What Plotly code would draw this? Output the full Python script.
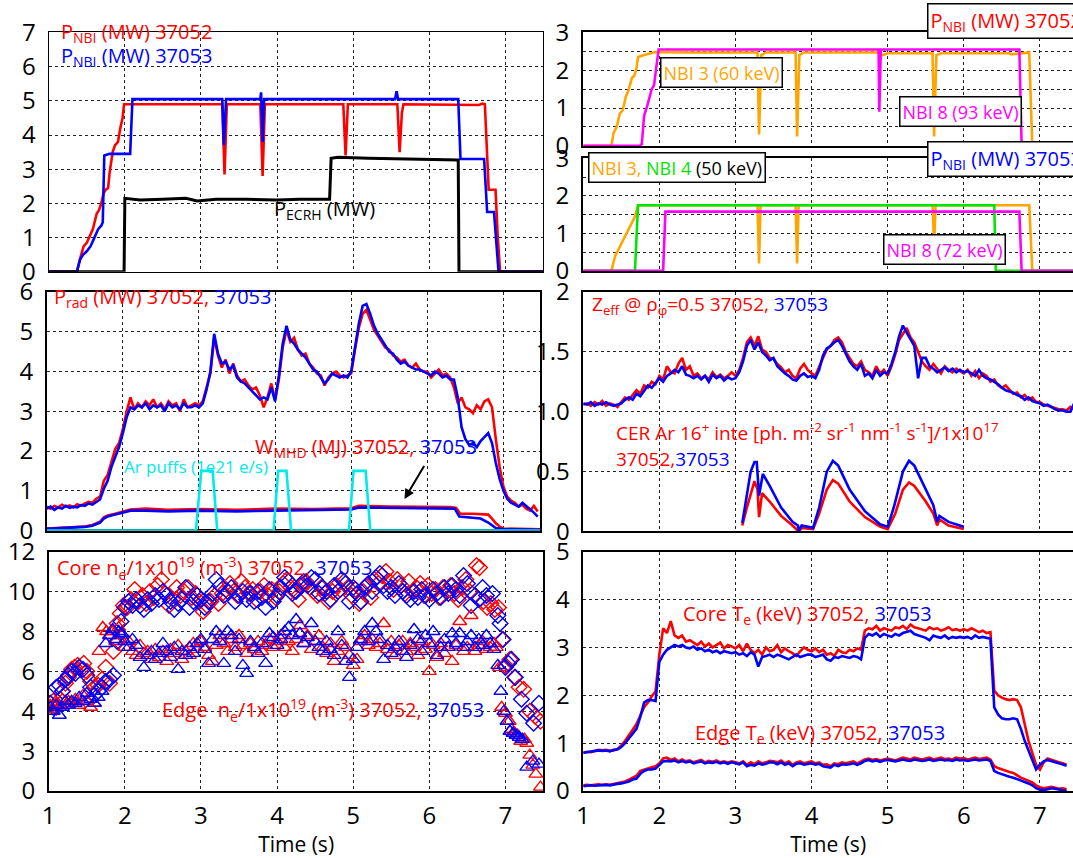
import numpy as np
import plotly.graph_objects as go

W, H = 1073, 858
RED = "#ff0000"; BLUE = "#0000ff"; CYAN = "#00eaea"; ORANGE = "#ffa500"
MAGENTA = "#ff00ff"; GREEN = "#00e600"; BLACK = "#000000"
FONT = "Open Sans"

# ---------------- axis tick labels ----------------
x_ticks = [1, 2, 3, 4, 5, 6, 7]
x_ticktext = ["1", "2", "3", "4", "5", "6", "7"]
ne_tickvals = [0, 2, 4, 6, 8, 10, 12]
ne_ticktext = ["0", "3", "4", "6", "8", "10", "12"]
zeff_tickvals = [0, 0.5, 1.0, 1.5, 2]
zeff_ticktext = ["0", "0.5", "1.0", "1.5", "2"]

# ---------------- panel 1: P_NBI and P_ECRH ----------------
pnbi_37052 = [(1.00,0),(1.37,0),(1.42,0.45),(1.46,0.75),(1.50,0.85),(1.53,1.0),(1.58,1.25),(1.63,1.7),
              (1.66,1.8),(1.69,2.0),(1.72,2.3),(1.75,2.4),(1.78,2.45),(1.80,2.9),(1.84,3.5),(1.87,3.7),
              (1.91,3.8),(1.94,4.2),(1.97,4.5),(1.99,4.9),(2.2,4.9),(2.6,4.92),(3.0,4.9),(3.28,4.9),
              (3.31,2.85),(3.34,4.9),(3.5,4.9),(3.78,4.9),(3.81,2.8),(3.84,4.9),(4.2,4.9),(4.6,4.9),
              (4.87,4.9),(4.90,3.4),(4.93,4.9),(5.3,4.9),(5.58,4.9),(5.61,3.5),(5.64,4.65),(5.66,4.9),
              (6.0,4.9),(6.5,4.9),(6.65,4.88),(6.70,4.92),(6.73,4.9),(6.78,2.4),(6.87,2.4),(6.90,1.0),
              (6.93,0),(7.5,0)]
pnbi_37053 = [(1.0,0),(1.37,0),(1.41,0.35),(1.45,0.5),(1.5,0.6),(1.55,0.75),(1.6,1.0),(1.65,1.25),
              (1.69,1.35),(1.71,1.45),(1.73,3.4),(1.8,3.45),(2.0,3.45),(2.07,3.45),(2.1,5.05),(3.28,5.05),
              (3.30,3.7),(3.33,5.05),(3.78,5.05),(3.79,5.25),(3.81,3.8),(3.83,5.05),(5.55,5.05),(5.57,5.28),
              (5.59,5.05),(6.38,5.05),(6.41,3.3),(6.72,3.3),(6.76,1.75),(6.85,1.75),(6.91,0),(7.5,0)]
pecrh = [(1.0,0),(1.99,0),(2.0,2.15),(2.2,2.1),(2.5,2.12),(2.8,2.15),(2.95,2.07),(3.2,2.12),(3.6,2.12),
         (4.0,2.1),(4.3,2.12),(4.69,2.12),(4.71,3.32),(4.8,3.35),(5.2,3.32),(5.6,3.3),(6.0,3.3),
         (6.38,3.27),(6.39,0),(7.5,0)]

# ---------------- panels 2-3: individual beams ----------------
nbi3_60kev_37052 = [(1.0,0),(1.37,0),(1.40,0.35),(1.44,0.5),(1.48,0.85),(1.52,0.95),(1.56,1.3),(1.60,1.5),
                    (1.64,1.8),(1.67,1.85),(1.70,2.05),(1.72,2.35),(1.8,2.4),(1.95,2.48),(2.5,2.47),
                    (3.29,2.47),(3.31,0.3),(3.34,2.4),(3.4,2.47),(3.79,2.47),(3.81,0.25),(3.84,2.4),
                    (3.9,2.47),(4.9,2.47),(4.93,2.4),(5.0,2.45),(5.59,2.45),(5.61,0.25),(5.64,2.4),
                    (5.7,2.45),(6.6,2.45),(6.62,2.42),(6.86,2.47),(6.9,0),(7.5,0)]
nbi8_93kev_37052 = [(1.0,0),(1.74,0),(1.77,0.05),(1.80,0.8),(1.84,1.05),(1.87,1.3),(1.90,1.5),(1.93,1.6),
                    (1.97,2.3),(1.99,2.55),(4.88,2.55),(4.89,0.9),(4.91,2.55),(6.73,2.55),(6.76,0),(7.5,0)]
nbi3_50kev_37053 = [(1.0,0),(1.37,0),(1.42,0.4),(1.47,0.6),(1.5,0.7),(1.55,0.9),(1.6,1.1),(1.65,1.3),
                    (1.68,1.45),(1.72,1.75),(2.0,1.75),(3.29,1.75),(3.31,0.2),(3.33,1.75),(3.79,1.75),
                    (3.81,0.2),(3.83,1.75),(5.59,1.75),(5.61,0.7),(5.63,1.75),(6.86,1.75),(6.9,0),(7.5,0)]
nbi4_50kev_37053 = [(1.0,0),(1.68,0),(1.72,1.75),(6.40,1.75),(6.42,0),(7.5,0)]
nbi8_72kev_37053 = [(1.0,0),(2.05,0),(2.08,1.58),(6.73,1.58),(6.76,0),(7.5,0)]

# ---------------- panel 4: P_rad, W_MHD, Ar puffs (P_rad sampled every 0.05 s from 1.0 s) ----------------
prad_37052 = [0.60,0.55,0.62,0.58,0.65,0.60,0.63,0.58,0.66,0.62,
              0.68,0.72,0.70,0.80,0.85,1.25,1.40,1.75,2.05,2.20,
              2.55,3.00,3.35,3.05,3.20,3.10,3.25,3.15,3.30,3.10,
              3.20,3.05,3.25,3.15,3.20,3.00,3.30,3.10,3.15,3.20,
              3.15,3.25,3.60,3.95,4.85,4.40,4.10,4.30,3.95,4.20,
              3.90,3.75,3.80,3.65,3.55,3.60,3.40,3.10,3.35,3.70,
              3.30,3.80,4.60,5.05,4.75,4.85,4.55,4.40,4.45,4.20,
              4.10,3.95,3.90,3.65,3.85,3.95,4.00,3.90,3.85,3.90,
              3.95,4.55,5.10,5.45,5.55,5.30,5.05,4.90,4.75,4.60,
              4.55,4.40,4.35,4.25,4.30,4.15,4.10,4.20,4.05,4.00,
              4.00,3.85,3.95,4.05,3.90,3.95,3.85,3.60,3.20,3.35,
              3.10,3.05,2.95,3.15,3.05,3.25,3.30,3.10,2.30,1.60,
              1.10,0.85,0.75,0.70,0.60,0.65,0.55,0.50,0.62,0.48]
prad_37053 = [0.55,0.60,0.52,0.58,0.55,0.62,0.57,0.60,0.58,0.64,
              0.62,0.68,0.65,0.72,0.78,1.05,1.25,1.60,1.85,2.10,
              2.45,2.85,3.10,3.05,3.15,3.10,3.20,3.05,3.15,3.10,
              3.15,3.00,3.20,3.10,3.15,3.05,3.20,3.10,3.10,3.15,
              3.10,3.20,3.55,4.00,4.95,4.45,4.20,4.25,4.05,4.15,
              3.85,3.75,3.70,3.60,3.50,3.40,3.30,3.35,3.30,3.60,
              3.25,3.90,4.70,5.15,4.80,4.70,4.55,4.45,4.35,4.20,
              4.05,4.00,3.85,3.70,3.80,3.95,3.90,3.85,3.90,3.85,
              4.00,4.65,5.20,5.65,5.70,5.45,5.15,4.95,4.80,4.65,
              4.50,4.45,4.30,4.20,4.25,4.15,4.10,4.05,4.05,4.00,
              3.95,3.90,4.00,3.95,3.85,3.90,3.80,3.80,3.35,2.60,
              2.30,2.15,2.20,2.10,2.25,2.35,2.45,2.20,1.70,1.30,
              1.00,0.80,0.70,0.65,0.60,0.70,0.62,0.55,0.45,0.35]
wmhd_37052 = [(1.0,0.05),(1.3,0.07),(1.5,0.10),(1.6,0.14),(1.7,0.22),(1.75,0.33),(1.8,0.38),(1.9,0.42),
              (2.0,0.47),(2.1,0.53),(2.3,0.55),(2.6,0.52),(3.0,0.54),(3.5,0.52),(4.0,0.55),(4.5,0.54),
              (5.0,0.56),(5.1,0.62),(5.5,0.60),(6.0,0.60),(6.3,0.59),(6.38,0.57),(6.43,0.42),(6.6,0.42),
              (6.8,0.40),(6.85,0.30),(6.9,0.18),(6.95,0.10),(7.0,0.05),(7.2,0.04),(7.5,0.03)]
wmhd_37053 = [(1.0,0.04),(1.3,0.06),(1.5,0.09),(1.6,0.12),(1.7,0.2),(1.75,0.3),(1.8,0.35),(1.9,0.40),
              (2.0,0.45),(2.1,0.5),(2.3,0.5),(2.6,0.48),(3.0,0.5),(3.5,0.48),(4.0,0.5),(4.5,0.52),
              (5.0,0.53),(5.1,0.58),(5.5,0.57),(6.0,0.56),(6.3,0.56),(6.36,0.55),(6.42,0.35),(6.6,0.33),
              (6.7,0.30),(6.8,0.2),(6.85,0.12),(6.9,0.06),(7.0,0.03),(7.5,0.02)]
ar_puffs = [(1.0,0),(2.96,0),(3.03,1.5),(3.18,1.5),(3.24,0),(3.98,0),(4.04,1.5),(4.15,1.5),(4.21,0),
            (4.97,0),(5.03,1.5),(5.19,1.5),(5.25,0),(7.5,0)]
base_line = [(1.0,0),(7.5,0)]

# ---------------- panel 5: Zeff (every 0.05 s from 1.0 s) and CER Ar16+ ----------------
zeff_37052 = [1.06,1.07,1.05,1.08,1.06,1.09,1.05,1.07,1.06,1.04,
              1.08,1.12,1.10,1.14,1.18,1.15,1.22,1.20,1.25,1.23,
              1.30,1.27,1.38,1.33,1.32,1.40,1.45,1.35,1.38,1.30,
              1.32,1.28,1.30,1.27,1.33,1.29,1.31,1.28,1.30,1.33,
              1.30,1.35,1.45,1.58,1.62,1.55,1.63,1.52,1.50,1.45,
              1.44,1.40,1.37,1.33,1.35,1.30,1.28,1.36,1.40,1.35,
              1.32,1.30,1.38,1.45,1.52,1.55,1.60,1.62,1.58,1.50,
              1.45,1.40,1.38,1.42,1.35,1.33,1.30,1.38,1.32,1.35,
              1.30,1.38,1.48,1.60,1.65,1.70,1.62,1.58,1.50,1.42,
              1.38,1.35,1.40,1.36,1.32,1.38,1.35,1.33,1.36,1.34,
              1.32,1.35,1.30,1.34,1.28,1.32,1.30,1.25,1.27,1.22,
              1.20,1.22,1.18,1.15,1.16,1.12,1.14,1.10,1.12,1.08,
              1.08,1.06,1.05,1.04,1.03,1.02,1.02,1.01,1.04,1.02]
zeff_37053 = [1.07,1.06,1.08,1.05,1.07,1.06,1.08,1.06,1.05,1.06,
              1.07,1.10,1.12,1.10,1.15,1.13,1.18,1.22,1.20,1.24,
              1.28,1.25,1.30,1.32,1.35,1.33,1.38,1.31,1.30,1.28,
              1.30,1.27,1.30,1.25,1.31,1.28,1.30,1.26,1.29,1.27,
              1.28,1.33,1.42,1.55,1.60,1.52,1.58,1.50,1.47,1.43,
              1.45,1.38,1.35,1.32,1.30,1.27,1.26,1.30,1.32,1.29,
              1.30,1.28,1.35,1.47,1.53,1.55,1.58,1.60,1.55,1.48,
              1.42,1.38,1.35,1.40,1.30,1.32,1.28,1.35,1.30,1.33,
              1.32,1.40,1.50,1.63,1.72,1.66,1.60,1.55,1.28,1.45,
              1.45,1.38,1.36,1.33,1.35,1.37,1.34,1.36,1.33,1.35,
              1.33,1.34,1.32,1.30,1.35,1.30,1.28,1.27,1.25,1.23,
              1.20,1.18,1.17,1.16,1.14,1.13,1.10,1.12,1.09,1.08,
              1.07,1.05,1.06,1.04,1.02,1.01,1.01,1.00,1.00,1.07]
cer_37052 = [(3.09,0.05),(3.15,0.2),(3.25,0.42),(3.29,0.35),(3.31,0.12),(3.35,0.32),(3.45,0.25),(3.6,0.13),
             (3.75,0.05),(3.83,0.0),(3.87,0.03),(4.02,0.02),(4.1,0.15),(4.2,0.35),(4.28,0.43),(4.35,0.4),
             (4.5,0.25),(4.7,0.12),(4.9,0.04),(5.0,0.02),(5.1,0.15),(5.2,0.35),(5.28,0.41),(5.35,0.38),
             (5.5,0.25),(5.6,0.15),(5.65,0.05),(5.68,0.1),(5.8,0.05),(6.0,0.02)]
cer_37053 = [(3.09,0.07),(3.15,0.3),(3.2,0.5),(3.25,0.58),(3.28,0.58),(3.31,0.3),(3.36,0.48),(3.45,0.38),
             (3.6,0.2),(3.75,0.08),(3.82,0.05),(3.83,0.0),(3.87,0.05),(4.02,0.03),(4.1,0.2),(4.2,0.5),
             (4.28,0.59),(4.35,0.55),(4.5,0.35),(4.7,0.17),(4.9,0.06),(5.0,0.04),(5.08,0.2),(5.2,0.5),
             (5.28,0.59),(5.35,0.55),(5.5,0.35),(5.6,0.22),(5.65,0.08),(5.68,0.13),(5.8,0.08),(6.0,0.04)]

# ---------------- panel 6: densities (axis position units) ----------------
core_ne_37052 = [(1.02,4.4),(1.06,4.5),(1.10,4.2),(1.15,4.6),(1.18,5.0),(1.22,5.4),(1.26,5.7),(1.30,6.1),
    (1.34,6.2),(1.38,6.3),(1.42,6.1),(1.46,6.4),(1.50,6.0),(1.55,5.5),(1.60,5.2),(1.65,5.3),(1.70,5.6),
    (1.75,6.2),(1.80,5.4),(1.85,7.0),(1.90,8.4),(1.94,8.9),(1.98,9.3),(2.03,9.2),(2.08,9.6),(2.13,10.1),
    (2.18,9.5),(2.23,9.8),(2.28,9.4),(2.33,10.0),(2.38,9.7),(2.43,10.3),(2.48,10.6),(2.53,9.9),(2.58,9.3),
    (2.63,9.6),(2.68,10.2),(2.73,9.8),(2.78,10.0),(2.83,10.2),(2.88,9.7),(2.93,9.9),(2.98,9.5),(3.03,9.0),
    (3.08,9.3),(3.13,9.5),(3.18,9.8),(3.23,9.4),(3.28,9.9),(3.33,10.1),(3.38,10.4),(3.43,10.0),(3.48,9.8),
    (3.53,10.5),(3.58,10.2),(3.63,9.9),(3.68,10.1),(3.73,9.6),(3.78,10.0),(3.83,10.3),(3.88,9.8),(3.93,10.1),
    (3.98,9.7),(4.03,10.0),(4.08,10.4),(4.13,10.6),(4.18,10.2),(4.23,10.0),(4.28,9.6),(4.33,10.3),(4.38,10.5),
    (4.43,10.2),(4.48,10.0),(4.53,9.8),(4.58,10.2),(4.63,9.9),(4.68,9.5),(4.73,10.0),(4.78,10.3),(4.83,10.1),
    (4.88,10.5),(4.93,10.2),(4.98,9.8),(5.03,10.1),(5.08,9.4),(5.13,10.0),(5.18,10.3),(5.23,9.7),(5.28,10.6),
    (5.33,10.4),(5.38,10.8),(5.43,11.0),(5.48,10.5),(5.53,10.1),(5.58,10.6),(5.63,10.3),(5.68,9.9),(5.73,10.5),
    (5.78,10.0),(5.83,10.2),(5.88,10.4),(5.93,9.8),(5.98,10.3),(6.03,9.9),(6.08,10.1),(6.13,9.7),(6.18,10.2),
    (6.23,10.0),(6.28,10.3),(6.33,9.9),(6.38,9.6),(6.43,10.2),(6.48,10.6),(6.53,10.0),(6.62,11.3),(6.66,11.2),
    (6.71,9.5),(6.76,9.2),(6.81,9.4),(6.86,9.1),(6.91,9.2),(6.96,7.6),(7.00,6.3),(7.06,6.6),(7.12,5.7),
    (7.18,5.2),(7.24,5.1),(7.32,4.0),(7.39,3.75),(7.46,3.5)]
core_ne_37053 = [(1.02,4.4),(1.06,4.2),(1.10,5.2),(1.14,5.3),(1.18,5.0),(1.22,5.6),(1.26,5.8),(1.30,6.0),
    (1.35,5.9),(1.40,6.2),(1.45,6.1),(1.50,5.8),(1.55,5.2),(1.60,4.8),(1.65,5.0),(1.70,5.2),(1.75,5.5),
    (1.80,5.6),(1.85,5.8),(1.90,7.5),(1.95,8.5),(2.00,9.2),(2.05,9.5),(2.10,9.3),(2.15,9.6),(2.20,9.3),
    (2.25,9.1),(2.30,9.6),(2.35,9.4),(2.40,9.8),(2.45,9.6),(2.50,10.0),(2.55,9.8),(2.60,9.5),(2.65,9.1),
    (2.70,9.4),(2.75,9.6),(2.80,10.2),(2.85,9.2),(2.90,9.5),(2.95,9.8),(3.00,9.6),(3.05,9.2),(3.10,9.5),
    (3.15,9.9),(3.20,10.6),(3.25,10.3),(3.30,9.8),(3.35,10.0),(3.40,10.2),(3.45,9.5),(3.50,9.8),(3.55,10.0),
    (3.60,9.6),(3.65,9.9),(3.70,9.5),(3.75,10.0),(3.80,9.7),(3.85,9.2),(3.90,10.1),(3.95,9.5),(4.00,9.8),
    (4.05,10.2),(4.10,10.7),(4.15,10.5),(4.20,9.9),(4.25,10.0),(4.30,10.3),(4.35,10.5),(4.40,10.3),(4.45,10.7),
    (4.50,10.6),(4.55,9.9),(4.60,10.2),(4.65,10.0),(4.70,9.6),(4.75,10.3),(4.80,10.0),(4.85,10.6),(4.90,10.4),
    (4.95,9.5),(5.00,10.2),(5.05,9.9),(5.10,9.5),(5.15,10.2),(5.20,10.4),(5.25,10.0),(5.30,10.7),(5.35,10.9),
    (5.40,10.3),(5.45,10.0),(5.50,10.2),(5.55,9.8),(5.60,10.4),(5.65,10.0),(5.70,9.8),(5.75,9.6),(5.80,10.0),
    (5.85,9.7),(5.90,10.1),(5.95,9.8),(6.00,9.6),(6.05,10.1),(6.10,9.9),(6.15,9.7),(6.20,10.2),(6.25,9.9),
    (6.30,10.3),(6.35,10.1),(6.40,9.8),(6.45,10.8),(6.50,10.4),(6.55,9.3),(6.60,9.8),(6.65,9.6),(6.70,10.2),
    (6.75,9.8),(6.83,9.9),(6.90,8.8),(6.93,8.4),(6.97,7.6),(7.00,6.2),(7.04,6.4),(7.08,6.6),(7.13,5.7),
    (7.21,4.6),(7.28,3.9),(7.37,3.4),(7.44,4.4)]
edge_ne_37052 = [(1.02,4.3),(1.06,4.1),(1.10,4.4),(1.14,4.2),(1.18,4.6),(1.22,4.3),(1.26,4.5),(1.30,4.4),
    (1.35,4.6),(1.40,4.3),(1.45,4.8),(1.50,4.5),(1.55,4.2),(1.60,4.4),(1.66,7.0),(1.71,8.2),(1.76,8.0),
    (1.80,7.8),(1.84,8.0),(1.88,7.5),(1.92,8.2),(1.96,7.8),(2.00,7.2),(2.05,7.5),(2.10,7.0),(2.15,6.8),
    (2.20,7.3),(2.25,6.9),(2.30,7.0),(2.35,6.6),(2.40,7.1),(2.45,6.7),(2.50,7.0),(2.55,6.5),(2.60,7.1),
    (2.65,6.9),(2.70,7.3),(2.75,6.6),(2.80,7.0),(2.85,6.8),(2.90,7.4),(2.95,7.1),(3.00,7.5),(3.05,7.2),
    (3.10,6.8),(3.15,6.5),(3.20,7.3),(3.25,7.8),(3.30,7.4),(3.35,7.0),(3.40,7.6),(3.45,7.2),(3.50,7.8),
    (3.55,7.3),(3.60,6.9),(3.65,7.4),(3.70,7.1),(3.75,7.5),(3.80,7.0),(3.85,7.3),(3.90,7.6),(3.95,7.2),
    (4.00,7.5),(4.05,7.8),(4.10,7.2),(4.15,7.5),(4.20,7.0),(4.25,7.6),(4.30,8.3),(4.35,7.4),(4.40,7.8),
    (4.45,7.1),(4.50,7.5),(4.55,7.8),(4.60,7.2),(4.65,6.9),(4.70,7.4),(4.75,6.5),(4.80,7.0),(4.85,7.5),
    (4.90,7.2),(4.95,6.8),(5.00,6.3),(5.05,6.6),(5.10,7.5),(5.15,7.8),(5.20,7.3),(5.25,7.6),(5.30,7.2),
    (5.35,7.4),(5.40,8.4),(5.45,7.1),(5.50,7.5),(5.55,6.8),(5.60,7.3),(5.65,7.5),(5.70,7.0),(5.75,7.4),
    (5.80,7.2),(5.85,6.8),(5.90,7.5),(5.95,7.1),(6.00,6.0),(6.05,7.3),(6.10,6.7),(6.15,7.4),(6.20,6.9),
    (6.25,7.2),(6.30,6.5),(6.35,7.3),(6.40,8.5),(6.45,7.0),(6.50,7.2),(6.55,8.8),(6.60,7.0),(6.65,7.3),
    (6.70,7.5),(6.75,7.1),(6.80,7.2),(6.85,7.4),(6.88,7.2),(6.92,6.2),(6.95,4.2),(7.00,3.9),(7.05,3.5),
    (7.08,3.1),(7.12,2.9),(7.16,2.8),(7.20,2.5),(7.25,2.6),(7.28,2.4),(7.32,1.8),(7.36,1.3),(7.40,0.85),
    (7.46,0.2)]
edge_ne_37053 = [(1.02,4.2),(1.06,4.0),(1.10,4.3),(1.14,3.8),(1.18,4.2),(1.22,4.5),(1.26,4.3),(1.30,4.5),
    (1.35,4.4),(1.40,4.7),(1.45,4.5),(1.50,4.9),(1.55,4.6),(1.60,4.4),(1.65,4.7),(1.70,5.0),(1.75,7.4),
    (1.80,7.8),(1.84,8.1),(1.88,7.6),(1.92,8.0),(1.96,7.9),(2.00,7.5),(2.05,7.2),(2.10,7.6),(2.15,7.3),
    (2.20,6.7),(2.25,6.2),(2.30,6.8),(2.35,7.0),(2.40,6.6),(2.45,6.9),(2.50,7.4),(2.55,7.0),(2.60,6.7),
    (2.65,7.2),(2.70,6.1),(2.75,7.0),(2.80,6.8),(2.85,7.2),(2.90,6.9),(2.95,7.4),(3.00,7.6),(3.05,7.1),
    (3.10,6.4),(3.15,7.6),(3.20,8.0),(3.25,7.5),(3.30,6.4),(3.35,8.0),(3.40,7.8),(3.45,7.0),(3.50,7.6),
    (3.55,6.3),(3.60,5.9),(3.65,7.5),(3.70,7.2),(3.75,6.9),(3.80,7.4),(3.85,6.4),(3.90,7.9),(3.95,7.7),
    (4.00,7.3),(4.05,7.6),(4.10,8.0),(4.15,8.2),(4.20,7.8),(4.25,8.6),(4.30,7.9),(4.35,7.4),(4.40,7.7),
    (4.45,8.4),(4.50,7.5),(4.55,7.2),(4.60,7.0),(4.65,7.5),(4.70,7.1),(4.75,6.8),(4.80,8.0),(4.85,7.3),
    (4.90,6.5),(4.95,5.7),(5.00,6.6),(5.05,7.2),(5.10,7.6),(5.15,8.0),(5.20,7.5),(5.25,8.4),(5.30,8.0),
    (5.35,7.6),(5.40,6.6),(5.45,7.3),(5.50,6.9),(5.55,7.2),(5.60,7.5),(5.65,7.0),(5.70,6.7),(5.75,7.3),
    (5.80,8.1),(5.85,7.6),(5.90,7.0),(5.95,7.8),(6.00,7.4),(6.05,8.0),(6.10,6.8),(6.15,7.2),(6.20,7.6),
    (6.25,7.2),(6.30,7.9),(6.35,7.4),(6.40,7.9),(6.45,7.2),(6.50,7.5),(6.55,7.8),(6.60,7.2),(6.65,7.6),
    (6.70,7.3),(6.75,7.8),(6.80,7.4),(6.85,7.1),(6.90,6.3),(6.94,5.0),(6.98,4.0),(7.02,3.5),(7.06,3.0),
    (7.10,2.9),(7.14,2.8),(7.18,2.7),(7.22,2.6),(7.28,1.2),(7.36,1.5),(7.44,1.35)]

# ---------------- panel 7: Te (every 0.05 s from 1.0 s) ----------------
core_te_37052 = [0.80,0.82,0.81,0.84,0.86,0.85,0.86,0.84,0.85,0.88,
                 0.95,1.05,1.18,1.28,1.40,1.58,1.75,1.85,1.98,2.08,
                 2.85,3.40,3.30,3.55,3.25,3.20,3.25,3.12,3.15,3.10,
                 3.05,3.12,3.02,3.08,3.00,3.05,3.10,2.98,3.05,3.02,
                 2.98,3.05,2.92,3.08,2.95,2.88,2.95,2.85,3.00,2.92,
                 2.95,3.05,2.90,2.98,2.92,2.88,2.82,2.92,3.00,2.95,
                 2.92,2.98,2.90,2.95,2.85,2.88,2.82,2.95,2.90,2.88,
                 2.95,2.92,2.98,2.95,3.35,3.40,3.38,3.45,3.35,3.40,
                 3.38,3.35,3.42,3.40,3.45,3.38,3.48,3.42,3.40,3.38,
                 3.35,3.42,3.38,3.40,3.35,3.38,3.42,3.36,3.38,3.35,
                 3.38,3.35,3.40,3.36,3.32,3.35,3.30,3.32,2.10,2.00,
                 1.95,1.92,1.90,1.92,1.90,1.75,1.40,1.05,0.80,0.55,
                 0.45,0.60,0.68,0.65,0.62,0.60,0.58,0.55]
core_te_37053 = [0.80,0.81,0.83,0.84,0.85,0.84,0.85,0.83,0.86,0.87,
                 0.92,1.00,1.10,1.20,1.30,1.55,1.85,1.90,1.90,1.88,
                 2.70,2.85,2.95,3.00,3.05,3.02,3.05,3.00,2.98,3.02,
                 2.95,2.98,2.92,2.95,2.90,2.93,2.88,2.92,2.90,2.88,
                 2.90,2.85,2.88,2.82,2.90,2.85,2.60,2.80,2.82,2.85,
                 2.80,2.85,2.82,2.78,2.75,2.80,2.85,2.80,2.82,2.85,
                 2.85,2.80,2.82,2.85,2.75,2.72,2.80,2.78,2.82,2.80,
                 2.78,2.82,2.80,2.75,3.20,3.28,3.25,3.30,3.22,3.28,
                 3.25,3.22,3.28,3.25,3.30,3.32,3.35,3.28,3.25,3.22,
                 3.20,3.15,3.25,3.22,3.20,3.25,3.18,3.22,3.20,3.22,
                 3.20,3.22,3.18,3.25,3.20,3.22,3.20,3.18,1.75,1.60,
                 1.52,1.50,1.50,1.52,1.50,1.30,1.05,0.85,0.65,0.45,
                 0.55,0.62,0.65,0.62,0.60,0.58,0.55,0.53]
edge_te_37052 = [0.12,0.13,0.12,0.13,0.14,0.13,0.14,0.13,0.15,0.16,
                 0.18,0.20,0.24,0.28,0.32,0.42,0.45,0.48,0.50,0.52,
                 0.58,0.68,0.70,0.65,0.68,0.62,0.66,0.62,0.64,0.60,
                 0.62,0.65,0.60,0.63,0.61,0.64,0.60,0.62,0.59,0.62,
                 0.60,0.58,0.62,0.55,0.60,0.56,0.62,0.58,0.60,0.63,
                 0.62,0.60,0.64,0.58,0.62,0.55,0.60,0.62,0.58,0.60,
                 0.62,0.58,0.60,0.55,0.56,0.52,0.58,0.56,0.60,0.58,
                 0.60,0.62,0.58,0.62,0.66,0.68,0.65,0.67,0.64,0.66,
                 0.68,0.66,0.64,0.67,0.70,0.68,0.66,0.70,0.68,0.66,
                 0.68,0.70,0.66,0.68,0.70,0.67,0.68,0.66,0.70,0.68,
                 0.69,0.66,0.68,0.70,0.67,0.68,0.70,0.66,0.52,0.48,
                 0.45,0.42,0.40,0.38,0.33,0.28,0.25,0.22,0.18,0.12,
                 0.08,0.06,0.07,0.09,0.07,0.05,0.06,0.04]
edge_te_37053 = [0.10,0.11,0.12,0.11,0.12,0.12,0.13,0.12,0.14,0.15,
                 0.16,0.18,0.20,0.24,0.26,0.36,0.42,0.45,0.45,0.47,
                 0.55,0.62,0.63,0.62,0.64,0.60,0.63,0.60,0.62,0.58,
                 0.60,0.62,0.58,0.60,0.59,0.61,0.58,0.60,0.57,0.60,
                 0.58,0.56,0.60,0.52,0.55,0.53,0.58,0.55,0.57,0.60,
                 0.60,0.56,0.60,0.55,0.58,0.52,0.57,0.58,0.55,0.57,
                 0.58,0.55,0.57,0.52,0.50,0.49,0.55,0.52,0.56,0.55,
                 0.56,0.58,0.55,0.58,0.63,0.65,0.62,0.64,0.61,0.64,
                 0.65,0.63,0.62,0.64,0.66,0.64,0.63,0.66,0.64,0.63,
                 0.64,0.66,0.63,0.65,0.66,0.64,0.65,0.63,0.66,0.64,
                 0.65,0.63,0.64,0.66,0.64,0.65,0.66,0.63,0.42,0.38,
                 0.35,0.32,0.30,0.28,0.25,0.22,0.20,0.16,0.12,0.06,
                 0.03,0.02,0.04,0.06,0.05,0.03,0.02,0.00]

# ================= figure construction =================
def unzip(pairs):
    return [p[0] for p in pairs], [p[1] for p in pairs]

def sampled(vals, t0=1.0, dt=0.05):
    return list(np.round(t0 + dt * np.arange(len(vals)), 3)), vals

fig = go.Figure()

def line(xy, color, ax, width=2.6):
    x, y = xy
    fig.add_trace(go.Scatter(x=x, y=y, mode="lines", line=dict(color=color, width=width),
                             xaxis="x" + ("" if ax == 1 else str(ax)),
                             yaxis="y" + ("" if ax == 1 else str(ax)), hoverinfo="skip"))

def markers(xy, color, symbol, ax):
    x, y = xy
    fig.add_trace(go.Scatter(x=x, y=y, mode="markers",
                             marker=dict(symbol=symbol, size=12, color=color, line=dict(color=color, width=1.4)),
                             xaxis="x" + str(ax), yaxis="y" + str(ax), hoverinfo="skip"))

# panel 1
line(unzip(pnbi_37052), RED, 1)
line(unzip(pnbi_37053), BLUE, 1)
line(unzip(pecrh), BLACK, 1, 3)
# panel 2
line(unzip(nbi3_60kev_37052), ORANGE, 2)
line(unzip(nbi8_93kev_37052), MAGENTA, 2)
# panel 3
line(unzip(nbi3_50kev_37053), ORANGE, 3)
line(unzip(nbi4_50kev_37053), GREEN, 3)
line(unzip(nbi8_72kev_37053), MAGENTA, 3)
# panel 4
line(unzip(base_line), BLACK, 4, 3)
line(sampled(prad_37052), RED, 4)
line(sampled(prad_37053), BLUE, 4)
line(unzip(wmhd_37052), RED, 4)
line(unzip(wmhd_37053), BLUE, 4)
line(unzip(ar_puffs), CYAN, 4)
# panel 5
line(sampled(zeff_37052), RED, 5)
line(sampled(zeff_37053), BLUE, 5)
line(unzip(cer_37052), RED, 5)
line(unzip(cer_37053), BLUE, 5)
# panel 6
markers(unzip(core_ne_37052), RED, "diamond-open", 6)
markers(unzip(core_ne_37053), BLUE, "diamond-open", 6)
markers(unzip(edge_ne_37052), RED, "triangle-up-open", 6)
markers(unzip(edge_ne_37053), BLUE, "triangle-up-open", 6)
# panel 7
line(sampled(core_te_37052), RED, 7)
line(sampled(core_te_37053), BLUE, 7)
line(sampled(edge_te_37052), RED, 7)
line(sampled(edge_te_37053), BLUE, 7)

# ---------------- layout ----------------
LX = (42, 540); RX = (580, 1073)
PX_PER_S = (540 - 42) / 6.5
panels = {
    1: dict(xp=LX, yp=(15, 264), yr=[0, 7], lw=1.2, labels=False, ymirror=True),
    2: dict(xp=RX, yp=(15, 133), yr=[0, 3], lw=2.2, labels=False, ymirror=False, minor=0.5),
    3: dict(xp=RX, yp=(146, 263), yr=[0, 3], lw=2.2, labels=False, ymirror=False, minor=0.5),
    4: dict(xp=(40, 537), yp=(285, 533), yr=[0, 6], lw=1.5, labels=False, ymirror=True),
    5: dict(xp=RX, yp=(285, 534), yr=[0, 2], lw=1.5, labels=False, ymirror=False,
            tv=zeff_tickvals, tt=zeff_ticktext),
    6: dict(xp=LX, yp=(555, 804), yr=[0, 12], lw=1.5, labels=True, ymirror=True,
            tv=ne_tickvals, tt=ne_ticktext),
    7: dict(xp=RX, yp=(555, 804), yr=[0, 5], lw=1.5, labels=True, ymirror=False),
}
tickfont = dict(family=FONT, size=24, color="black")
layout = dict(width=W, height=H, margin=dict(l=0, r=0, t=0, b=0), showlegend=False,
              plot_bgcolor="white", paper_bgcolor="white")
for k, p in panels.items():
    sfx = "" if k == 1 else str(k)
    x0, x1 = p["xp"]; ytop, ybot = p["yp"]
    xmax = 1 + (x1 - x0) / PX_PER_S
    xa = dict(domain=[x0 / W, min(x1 / W, 1.0)], range=[1, xmax], anchor="y" + sfx,
              tickvals=x_ticks, ticktext=x_ticktext, showticklabels=p["labels"], ticks="",
              showgrid=True, gridcolor="#222222", griddash="dot", gridwidth=1, zeroline=False,
              showline=True, linecolor="black", linewidth=p["lw"], mirror=True, tickfont=tickfont,
              ticklabelstandoff=2)
    if p["labels"]:
        xa["title"] = dict(text="Time (s)", font=dict(family=FONT, size=21, color="black"), standoff=0)
    ya = dict(domain=[1 - ybot / H, 1 - ytop / H], range=p["yr"], anchor="x" + sfx, ticks="",
              showgrid=True, gridcolor="#222222", griddash="dot", gridwidth=1, zeroline=False,
              showline=True, linecolor="black", linewidth=p["lw"], mirror=p["ymirror"],
              tickfont=tickfont, ticklabelstandoff=7)
    if "tv" in p:
        ya.update(tickvals=p["tv"], ticktext=p["tt"])
    else:
        ya.update(dtick=1)
    if "minor" in p:
        ya["minor"] = dict(dtick=p["minor"], showgrid=True, gridcolor="#222222", griddash="dot", ticks="")
    layout["xaxis" + sfx] = xa
    layout["yaxis" + sfx] = ya

def ann(text, px, py, size=20, color=BLACK, xanchor="left", box=False):
    d = dict(text=text, x=px / W, y=1 - py / H, xref="paper", yref="paper", xanchor=xanchor,
             yanchor="middle", showarrow=False, font=dict(family=FONT, size=size, color=color))
    if box:
        d.update(bordercolor="black", borderwidth=1.5, bgcolor="white", borderpad=2)
    return d

B = lambda s: f'<span style="color:{BLUE}">{s}</span>'
annotations = [
    ann("P<sub>NBI</sub> (MW) 37052", 52, 15, color=RED),
    ann("P<sub>NBI</sub> (MW) 37053", 52, 40, color=BLUE),
    ann("P<sub>ECRH</sub> (MW)", 267, 199),
    ann("NBI 3 (60 keV)", 657, 57, 18, ORANGE, box=True),
    ann("NBI 8 (93 keV)", 898, 97, 18, MAGENTA, box=True),
    ann("P<sub>NBI</sub> (MW) 37052", 926, 3, 20, RED, box=True),
    ann(f'<span style="color:{ORANGE}">NBI 3, </span><span style="color:{GREEN}">NBI 4</span> (50 keV)',
        585, 155, 18, BLACK, box=True),
    ann("P<sub>NBI</sub> (MW) 37053", 926, 147, 20, BLUE, box=True),
    ann("NBI 8 (72 keV)", 882, 241, 18, MAGENTA, box=True),
    ann("P<sub>rad</sub> (MW) 37052, " + B("37053"), 45, 291, color=RED),
    ann("W<sub>MHD</sub> (MJ) 37052, " + B("37053"), 248, 447, color=RED),
    ann("Ar puffs (1e21 e/s)", 116, 466, 17, CYAN),
    ann("Z<sub>eff</sub> @ ρ<sub>φ</sub>=0.5 37052, " + B("37053"), 587, 298, 19, RED),
    ann("CER Ar 16<sup>+</sup> inte [ph. m<sup>-2</sup> sr<sup>-1</sup> nm<sup>-1</sup> s<sup>-1</sup>]/1x10<sup>17</sup>",
        611, 431, 19, RED),
    ann("37052," + B("37053"), 611, 459, 19, RED),
    ann("Core n<sub>e</sub>/1x10<sup>19</sup> (m<sup>-3</sup>) 37052, " + B("37053"), 48, 572, color=RED),
    ann("Edge  n<sub>e</sub>/1x10<sup>19</sup> (m<sup>-3</sup>) 37052, " + B("37053"), 154, 720, color=RED),
    ann("Core T<sub>e</sub> (keV) 37052, " + B("37053"), 678, 620, color=RED),
    ann("Edge T<sub>e</sub> (keV) 37052, " + B("37053"), 691, 744, color=RED),
    dict(x=5.70, y=0.79, xref="x4", yref="y4", ax=5.97, ay=1.66, axref="x4", ayref="y4",
         showarrow=True, arrowhead=2, arrowsize=1, arrowwidth=2, arrowcolor="black", text=""),
]
layout["annotations"] = annotations
fig.update_layout(**layout)
fig.write_html("out.html")
